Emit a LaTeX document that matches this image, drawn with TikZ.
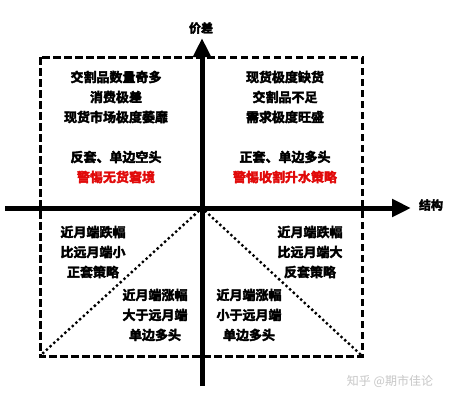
\documentclass[tikz,border=0pt]{standalone}
\usepackage{fontspec}
\setmainfont{Noto Sans CJK SC}
\newfontfamily\cjkb{Noto Sans CJK SC Bold}[FakeBold=3]
\usetikzlibrary{arrows.meta}
\definecolor{warnred}{RGB}{225,10,10}
\tikzset{
  txt/.style={font=\cjkb\fontsize{13}{20}\selectfont, align=center, inner sep=0pt, anchor=center},
  redtxt/.style={txt, text=warnred},
  axis/.style={line width=5pt, -{Triangle[width=17pt,length=19pt]}},
  frame/.style={line width=3pt, dash pattern=on 7.5pt off 3.5pt},
  dots/.style={line width=3.3pt, line cap=round, dash pattern=on 0pt off 5pt},
  lab/.style={font=\cjkb\fontsize{12}{14}\selectfont, inner sep=0pt}
}
\begin{document}
\begin{tikzpicture}[x=1pt,y=-1pt]
\useasboundingbox (0,0) rectangle (451,400);
\fill[white] (0,0) rectangle (451,400);
% frame
\coordinate (tl) at (40,57);
\coordinate (br) at (362,356);
\draw[frame] (tl) rectangle (br);
% dotted diagonals
\coordinate (o) at (202,208);
\coordinate (bl) at (42,354);
\coordinate (brr) at (360,354);
\draw[dots] (o) -- (bl);
\draw[dots] (o) -- (brr);
% axes
\coordinate (vb) at (202,386);
\coordinate (vt) at (202,38);
\coordinate (hl) at (5,208);
\coordinate (hr) at (411,208);
\draw[axis] (vb) -- (vt);
\draw[axis] (hl) -- (hr);
\node[lab] (ly) at (201,28) {价差};
\node[lab] (lx) at (431,205) {结构};
% top-left
\node[txt] (a1) at (116,97) {交割品数量奇多\\消费极差\\现货市场极度萎靡};
\node[txt] (a2) at (116,157) {反套、单边空头};
\node[redtxt] (a3) at (116,177) {警惕无货窘境};
% top-right
\node[txt] (b1) at (285,97) {现货极度缺货\\交割品不足\\需求极度旺盛};
\node[txt] (b2) at (285,157) {正套、单边多头};
\node[redtxt] (b3) at (285,177) {警惕收割升水策略};
% bottom-left
\node[txt] (c1) at (93,252) {近月端跌幅\\比远月端小\\正套策略};
\node[txt] (c2) at (155,315) {近月端涨幅\\大于远月端\\单边多头};
% bottom-right
\node[txt] (d1) at (310,252) {近月端跌幅\\比远月端大\\反套策略};
\node[txt] (d2) at (249,315) {近月端涨幅\\小于远月端\\单边多头};
% watermark
\node[font=\fontsize{12}{14}\selectfont, text=black!22, inner sep=0pt] (wm) at (390,381) {知乎 @期市佳论};
\end{tikzpicture}
\end{document}
